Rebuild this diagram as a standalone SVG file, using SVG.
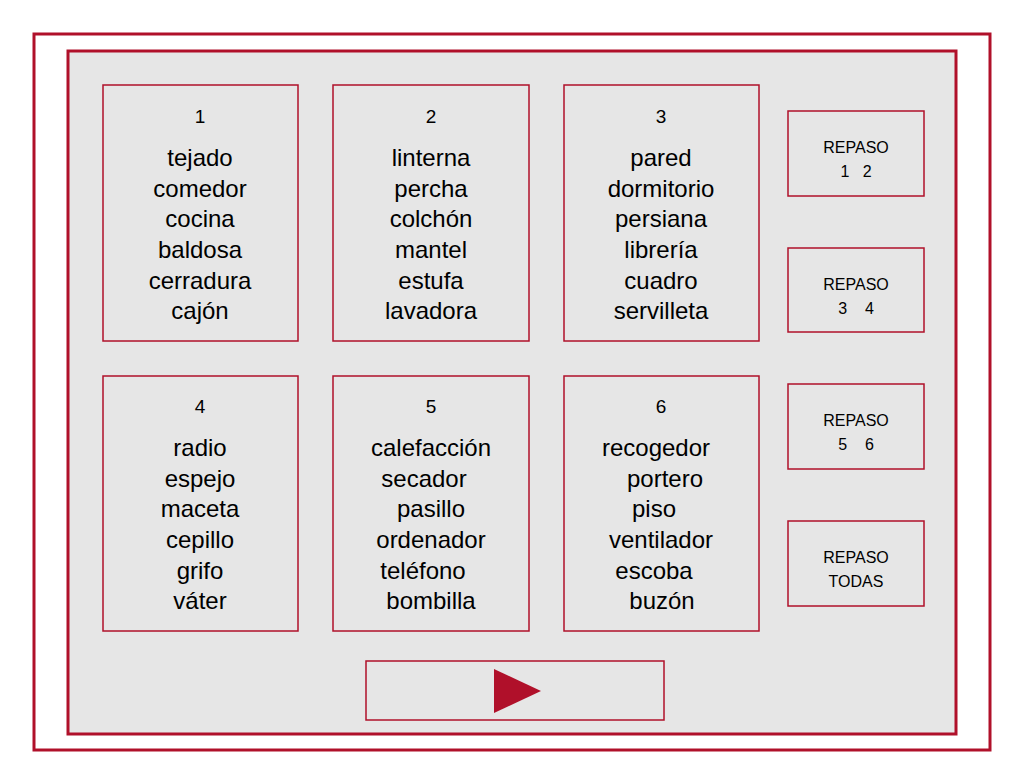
<svg xmlns="http://www.w3.org/2000/svg" width="1024" height="768" viewBox="0 0 1024 768">
<style>
.b{fill:#e6e6e6;stroke:#b0102a;stroke-width:1.5}
text{font-family:"Liberation Sans",Arial,sans-serif;fill:#000;text-anchor:middle}
.n{font-size:19px}.w{font-size:24px}.r{font-size:16px;white-space:pre}
</style>
<rect width="1024" height="768" fill="#fff"/>
<rect x="34" y="34" width="956" height="716" fill="#fff" stroke="#b0102a" stroke-width="3"/>
<rect x="68" y="51" width="888" height="683" fill="#e6e6e6" stroke="#b0102a" stroke-width="3"/>
<g id="n1"><rect class="b" x="103" y="85" width="195" height="256"/>
<text class="n" x="200" y="123">1</text>
<text class="w" x="200" y="166">tejado</text><text class="w" x="200" y="197">comedor</text><text class="w" x="200" y="227">cocina</text><text class="w" x="200" y="258">baldosa</text><text class="w" x="200" y="289">cerradura</text><text class="w" x="200" y="319">cajón</text></g>
<g id="n2"><rect class="b" x="333" y="85" width="196" height="256"/>
<text class="n" x="431" y="123">2</text>
<text class="w" x="431" y="166">linterna</text><text class="w" x="431" y="197">percha</text><text class="w" x="431" y="227">colchón</text><text class="w" x="431" y="258">mantel</text><text class="w" x="431" y="289">estufa</text><text class="w" x="431" y="319">lavadora</text></g>
<g id="n3"><rect class="b" x="564" y="85" width="195" height="256"/>
<text class="n" x="661" y="123">3</text>
<text class="w" x="661" y="166">pared</text><text class="w" x="661" y="197">dormitorio</text><text class="w" x="661" y="227">persiana</text><text class="w" x="661" y="258">librería</text><text class="w" x="661" y="289">cuadro</text><text class="w" x="661" y="319">servilleta</text></g>
<g id="n4"><rect class="b" x="103" y="376" width="195" height="255"/>
<text class="n" x="200" y="413">4</text>
<text class="w" x="200" y="456">radio</text><text class="w" x="200" y="487">espejo</text><text class="w" x="200" y="517">maceta</text><text class="w" x="200" y="548">cepillo</text><text class="w" x="200" y="579">grifo</text><text class="w" x="200" y="609">váter</text></g>
<g id="n5"><rect class="b" x="333" y="376" width="196" height="255"/>
<text class="n" x="431" y="413">5</text>
<text class="w" x="431" y="456">calefacción</text><text class="w" x="424" y="487">secador</text><text class="w" x="431" y="517">pasillo</text><text class="w" x="431" y="548">ordenador</text><text class="w" x="423" y="579">teléfono</text><text class="w" x="431" y="609">bombilla</text></g>
<g id="n6"><rect class="b" x="564" y="376" width="195" height="255"/>
<text class="n" x="661" y="413">6</text>
<text class="w" x="656" y="456">recogedor</text><text class="w" x="665" y="487">portero</text><text class="w" x="654" y="517">piso</text><text class="w" x="661" y="548">ventilador</text><text class="w" x="654" y="579">escoba</text><text class="w" x="662" y="609">buzón</text></g>
<g id="r1"><rect class="b" x="788" y="111" width="136" height="85"/><text class="r" x="856" y="153">REPASO</text><text class="r" x="856" y="177" xml:space="preserve">1   2</text></g>
<g id="r2"><rect class="b" x="788" y="248" width="136" height="84"/><text class="r" x="856" y="290">REPASO</text><text class="r" x="856" y="314" xml:space="preserve">3    4</text></g>
<g id="r3"><rect class="b" x="788" y="384" width="136" height="85"/><text class="r" x="856" y="426">REPASO</text><text class="r" x="856" y="450" xml:space="preserve">5    6</text></g>
<g id="r4"><rect class="b" x="788" y="521" width="136" height="85"/><text class="r" x="856" y="563">REPASO</text><text class="r" x="856" y="587">TODAS</text></g>
<g id="next"><rect class="b" x="366" y="661" width="298" height="59"/><polygon points="494,669 541,691 494,713" fill="#b0102a"/></g>
<g id="connectors"/>
</svg>
